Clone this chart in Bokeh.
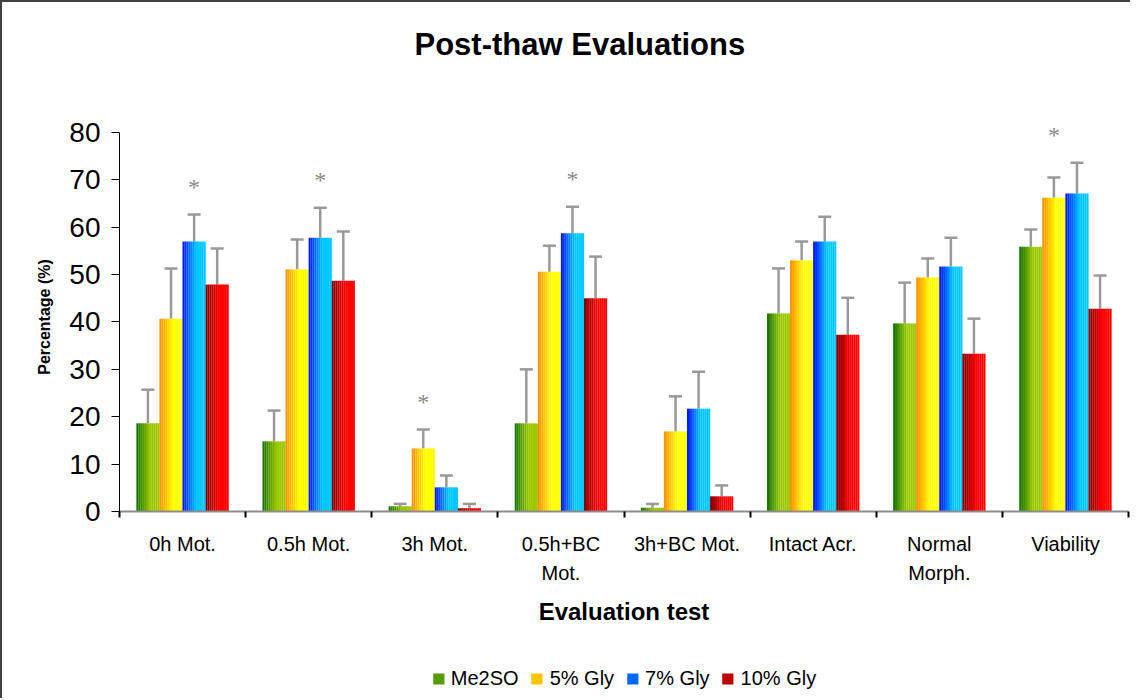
from bokeh.plotting import figure
from bokeh.layouts import column
from bokeh.models import (ColumnDataSource, FixedTicker, Range1d, Whisker, TeeHead,
                          Legend, LegendItem, Title, LabelSet)
from bokeh.embed import file_html
from bokeh.resources import INLINE

categories = ["0h Mot.", "0.5h Mot.", "3h Mot.", "0.5h+BC\nMot.", "3h+BC Mot.",
              "Intact Acr.", "Normal\nMorph.", "Viability"]
series = ["Me2SO", "5% Gly", "7% Gly", "10% Gly"]

me2so = [18.6, 14.8, 1.1, 18.6, 0.8, 41.8, 39.7, 55.9]
gly5 = [40.7, 51.1, 13.3, 50.6, 16.9, 53.0, 49.4, 66.2]
gly7 = [57.0, 57.8, 5.1, 58.7, 21.7, 57.0, 51.7, 67.1]
gly10 = [47.9, 48.7, 0.7, 45.0, 3.2, 37.3, 33.3, 42.8]

me2so_err = [7.1, 6.5, 0.5, 11.4, 0.8, 9.5, 8.6, 3.6]
gly5_err = [10.6, 6.3, 4.0, 5.5, 7.4, 4.0, 4.0, 4.3]
gly7_err = [5.7, 6.3, 2.5, 5.6, 7.8, 5.2, 6.1, 6.5]
gly10_err = [7.6, 10.4, 0.9, 8.8, 2.3, 7.8, 7.4, 7.0]

# significance marks: (category index, series index)
significant = [(0, 2), (1, 2), (2, 1), (3, 2), (7, 1)]

y_ticks = list(range(0, 81, 10))

values = [me2so, gly5, gly7, gly10]
errors = [me2so_err, gly5_err, gly7_err, gly10_err]

# gradient colour stops (dark -> bright) for each series
grad_start = ["#1a7800", "#ff9400", "#0018ff", "#880000"]
grad_end = ["#9cc800", "#ffff00", "#00c8ff", "#ff0000"]


def hex2rgb(h):
    h = h.lstrip("#")
    return tuple(int(h[i:i + 2], 16) for i in (0, 2, 4))


def mix(a, b, t):
    ra, rb = hex2rgb(a), hex2rgb(b)
    return "#%02x%02x%02x" % tuple(int(round(ra[k] + (rb[k] - ra[k]) * t)) for k in range(3))


def blank(fig):
    fig.axis.visible = False
    fig.xgrid.visible = False
    fig.ygrid.visible = False
    fig.outline_line_color = None


W, HT, H1, H2 = 1128, 80, 576, 40

# title strip
tf = figure(width=W, height=HT, output_backend="svg", toolbar_location=None,
            x_range=Range1d(0, 1), y_range=Range1d(0, 1),
            min_border_left=117, min_border_right=2, min_border_top=59,
            min_border_bottom=0)
blank(tf)
tf.title = Title(text="Post-thaw Evaluations", align="left", vertical_align="bottom",
                 text_font="Liberation Sans", text_font_size="31px",
                 text_font_style="bold", text_color="#000000", offset=295,
                 standoff=0)

# main chart: the range runs a little past 80 so the top asterisk is not clipped;
# the axis itself is bounded to 0-80
p = figure(width=W, height=H1, output_backend="svg", toolbar_location=None,
           x_range=Range1d(0, 8), y_range=Range1d(0, 82.1),
           min_border_left=117, min_border_right=2, min_border_top=40,
           min_border_bottom=147)
p.outline_line_color = None
p.xgrid.visible = False
p.ygrid.visible = False

bar_w = 0.183
nstrip = 12
centers = [i + 0.5 for i in range(len(categories))]
for s, name in enumerate(series):
    off = (s - 1.5) * bar_w
    for k in range(nstrip):
        t = min(1.0, k / (nstrip * 0.55))
        col = mix(grad_start[s], grad_end[s], t)
        sw = bar_w / nstrip
        xs = [c + off - bar_w / 2 + sw * (k + 0.5) for c in centers]
        src = ColumnDataSource(dict(x=xs, top=values[s]))
        p.vbar(x="x", top="top", width=sw * 1.05, bottom=0, source=src,
               fill_color=col, line_color=None)

    esrc = ColumnDataSource(dict(x=[c + off for c in centers], lo=values[s],
                                 hi=[v + e for v, e in zip(values[s], errors[s])]))
    wk = Whisker(base="x", lower="lo", upper="hi", source=esrc, dimension="height",
                 line_color="#999999", line_width=2.5, lower_head=None,
                 upper_head=TeeHead(size=13, line_color="#999999", line_width=2.5))
    p.add_layout(wk)

# asterisk sits above the tallest error bar of its group
group_max = [max(values[s][c] + errors[s][c] for s in range(len(series)))
             for c in range(len(categories))]
asrc = ColumnDataSource(dict(
    x=[centers[c] + (s - 1.5) * bar_w for c, s in significant],
    y=[group_max[c] + 5.8 for c, s in significant],
    t=["*"] * len(significant)))
p.add_layout(LabelSet(x="x", y="y", text="t", source=asrc, text_align="center",
                      text_baseline="middle", text_font="Liberation Sans",
                      text_font_size="24px", text_color="#8a8a8a"))

# axes
xa = p.xaxis[0]
xa.ticker = FixedTicker(ticks=centers, minor_ticks=list(range(9)))
xa.major_label_overrides = {c: lab for c, lab in zip(centers, categories)}
xa.major_tick_in = 0
xa.major_tick_out = 0
xa.minor_tick_in = 0
xa.minor_tick_out = 6
xa.minor_tick_line_color = "#000000"
xa.minor_tick_line_width = 2
xa.axis_line_color = "#8c8c8c"
xa.axis_line_width = 2
xa.major_label_text_font = "Liberation Sans"
xa.major_label_text_font_size = "20px"
xa.major_label_text_line_height = 1.35
xa.major_label_text_color = "#000000"
xa.major_label_standoff = 15
xa.axis_label = "Evaluation test"
xa.axis_label_text_font = "Liberation Sans"
xa.axis_label_text_font_size = "24px"
xa.axis_label_text_font_style = "bold"
xa.axis_label_text_color = "#000000"
xa.axis_label_standoff = 11

ya = p.yaxis[0]
ya.ticker = FixedTicker(ticks=y_ticks)
ya.bounds = (y_ticks[0], y_ticks[-1])
ya.minor_tick_line_color = None
ya.major_tick_in = 0
ya.major_tick_out = 8
ya.major_tick_line_color = "#000000"
ya.axis_line_color = "#000000"
ya.axis_line_width = 1
ya.major_label_text_font = "Liberation Sans"
ya.major_label_text_font_size = "28px"
ya.major_label_text_color = "#000000"
ya.major_label_standoff = 11
ya.axis_label = "Percentage (%)"
ya.axis_label_text_font = "Liberation Sans"
ya.axis_label_text_font_size = "16px"
ya.axis_label_text_font_style = "bold"
ya.axis_label_text_color = "#000000"
ya.axis_label_standoff = 13

# legend strip below the chart (swatches come from zero-height dummy bars)
lg = figure(width=W, height=H2, output_backend="svg", toolbar_location=None,
            x_range=Range1d(0, 1), y_range=Range1d(0, 1),
            min_border_left=117, min_border_right=2, min_border_top=0,
            min_border_bottom=0)
blank(lg)
mid_cols = [mix(grad_start[s], grad_end[s], 0.45) for s in range(len(series))]
items = []
for s, name in enumerate(series):
    r = lg.vbar(x=[0.5], top=[0], bottom=0, width=0.01, fill_color=mid_cols[s],
                line_color=None)
    items.append(LegendItem(label=name, renderers=[r]))
legend = Legend(items=items, orientation="horizontal", location="center",
                label_text_font="Liberation Sans", label_text_font_size="20px",
                label_text_color="#000000", glyph_width=14, glyph_height=14,
                spacing=11, label_standoff=6, padding=0, margin=0,
                border_line_color=None, background_fill_alpha=0)
lg.add_layout(legend, "center")

layout = column(tf, p, lg, spacing=0)
layout.styles = {"border-left": "2px solid #404040", "border-top": "2px solid #404040"}

open("out.html", "w").write(file_html(layout, INLINE))
